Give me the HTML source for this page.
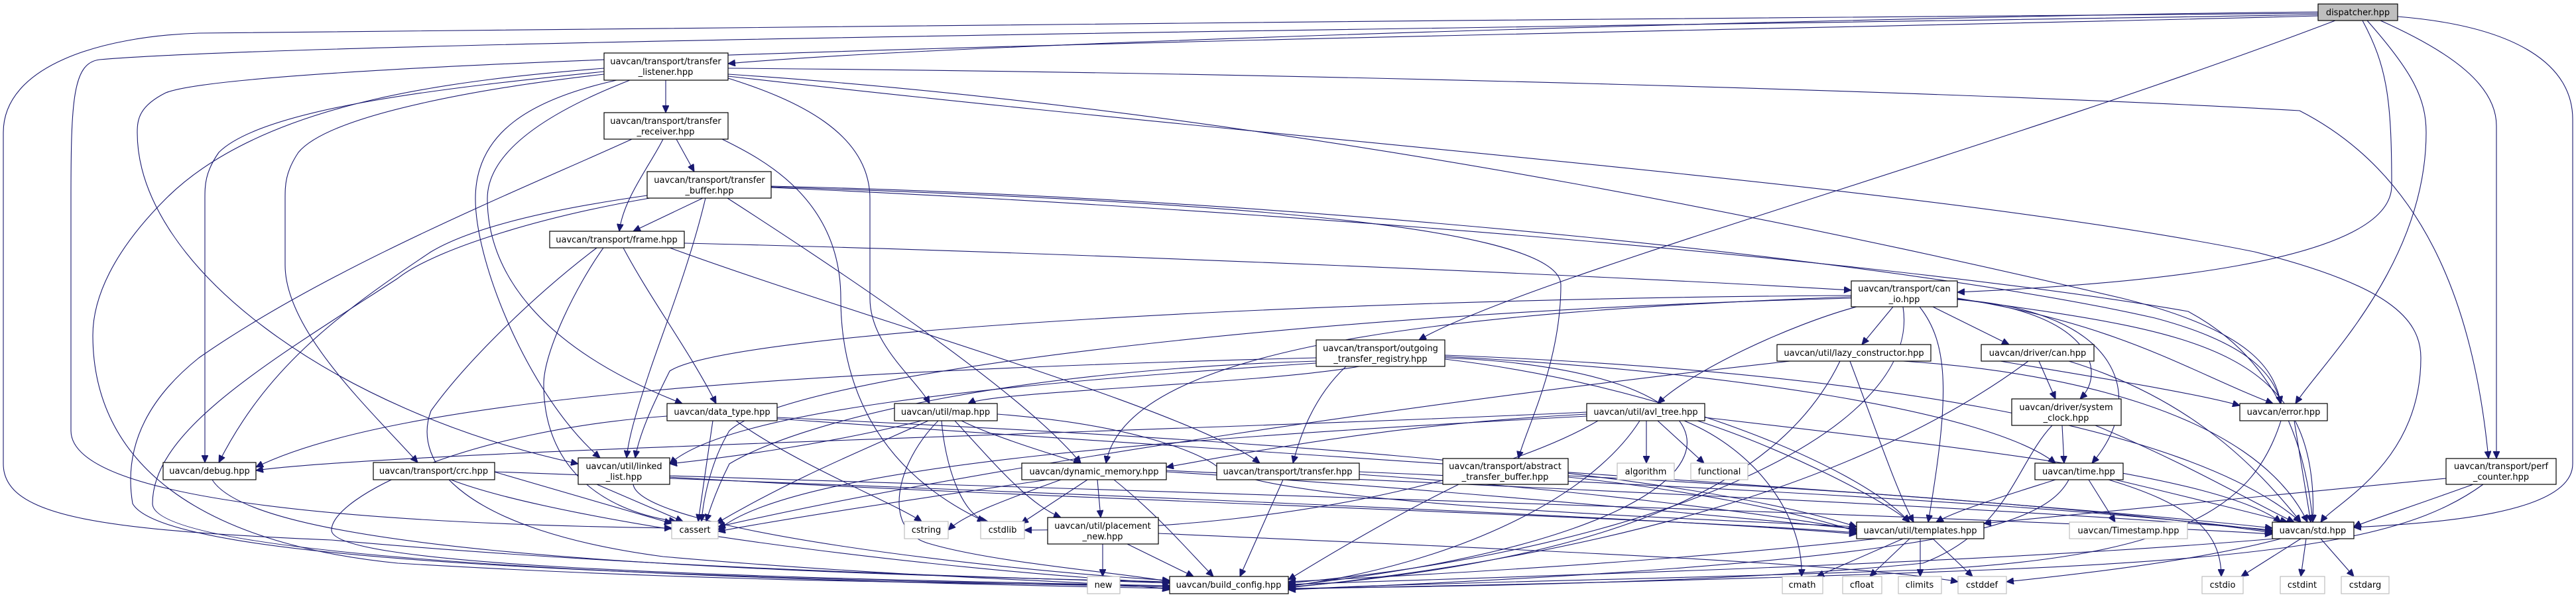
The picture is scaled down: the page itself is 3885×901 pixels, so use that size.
<!DOCTYPE html>
<html><head><meta charset="utf-8"><style>
html,body{margin:0;padding:0;background:#fff;}
svg{display:block}
text{font-family:"DejaVu Sans","Liberation Sans",sans-serif;font-size:13px;fill:#000}
.n{fill:#fff;stroke:#000;stroke-width:1.2}
.g{fill:#fff;stroke:#bfbfbf;stroke-width:1.2}
.e path{fill:none;stroke:#191970;stroke-width:1.1;marker-end:url(#a)}
</style></head><body>
<svg width="3885" height="901" viewBox="0 0 3885 901" xmlns="http://www.w3.org/2000/svg">
<defs><marker id="a" markerUnits="userSpaceOnUse" markerWidth="12" markerHeight="10" refX="11" refY="5" orient="auto"><path d="M0,0 L11,5 L0,10 z" fill="#191970" stroke="#191970"/></marker></defs>
<g class="e">
<path d="M3496,18 C3000,22 1500,60 1098,96"/>
<path d="M3496,20 C2500,30 700,40 300,50 C150,55 5,100 5,200 L5,700 C5,780 150,800 500,815 C1000,860 1500,870 1764,880"/>
<path d="M3496,22 C2500,40 500,60 150,90 C110,95 107,150 107,300 L107,650 C107,750 500,790 1013,797"/>
<path d="M3496,24 C2500,50 400,80 250,140 C210,160 207,180 207,200 C207,400 500,620 872,700"/>
<path d="M3522,31 C3000,230 2300,420 2140,513"/>
<path d="M3563,31 C3600,100 3607,150 3607,280 C3607,400 3200,430 2952,441"/>
<path d="M3570,31 C3640,110 3659,150 3659,200 C3659,400 3500,550 3462,609"/>
<path d="M3590,31 C3700,80 3765,130 3765,190 L3765,692"/>
<path d="M3616,25 C3800,40 3880,100 3880,180 L3880,700 C3880,780 3650,790 3550,796"/>
<path d="M1004,121 L1004,170"/>
<path d="M911,103 C700,120 400,150 250,300 C170,380 140,450 140,506 C140,700 300,820 600,850 C1100,880 1500,880 1764,884"/>
<path d="M911,108 C700,130 400,160 330,230 C309,260 309,280 309,300 L309,698"/>
<path d="M911,112 C750,130 500,170 450,230 C430,260 430,280 430,300 L430,400 C430,500 560,620 630,698"/>
<path d="M930,121 C800,150 717,200 717,300 C717,400 800,600 905,691"/>
<path d="M950,121 C850,160 735,220 735,300 C735,400 800,520 1029,609"/>
<path d="M1098,118 C1200,150 1312,200 1312,300 L1312,450 C1312,520 1380,570 1402,609"/>
<path d="M1098,103 C2000,110 3000,140 3468,167 C3650,260 3730,450 3753,692"/>
<path d="M1098,112 C2000,172 2900,380 3200,450 C3400,500 3430,560 3440,609"/>
<path d="M1098,115 C2000,218 2900,279 3400,380 C3600,430 3651,480 3651,540 C3651,700 3520,760 3500,788"/>
<path d="M1020,210 L1047,259"/>
<path d="M1000,210 C980,250 940,300 934,349"/>
<path d="M953,210 C800,280 500,400 300,540 C200,620 190,700 200,760 C250,850 1000,870 1764,886"/>
<path d="M1089,210 C1150,240 1268,300 1268,450 C1268,550 1300,700 1485,787"/>
<path d="M1060,299 L955,349"/>
<path d="M1064,299 C1040,400 1000,500 980,560 C960,620 948,660 945,691"/>
<path d="M976,295 C800,320 700,350 650,380 C500,480 400,560 330,698"/>
<path d="M980,299 C800,330 650,380 600,420 C400,550 230,650 230,760 C230,830 800,870 1764,888"/>
<path d="M1097,299 C1300,430 1550,600 1630,699"/>
<path d="M1163,282 C1700,300 2354,330 2354,430 C2354,550 2300,650 2290,692"/>
<path d="M1163,281 C2000,300 2900,400 3250,480 C3400,520 3430,570 3440,609"/>
<path d="M1163,283 C2000,320 2900,400 3300,470 C3450,550 3480,700 3488,788"/>
<path d="M1032,367 C1600,380 2500,420 2792,438"/>
<path d="M940,374 C980,450 1040,530 1080,609"/>
<path d="M910,374 C870,430 820,530 820,580 C820,700 900,770 1020,787"/>
<path d="M900,374 C800,450 700,550 650,620 C620,700 700,800 1000,840 C1400,875 1700,878 1764,890"/>
<path d="M1010,374 C1300,480 1800,620 1900,699"/>
<path d="M2792,446 C2000,450 1100,500 1010,560 C990,600 965,650 958,691"/>
<path d="M2792,448 C2200,470 1700,520 1668,699"/>
<path d="M2792,450 C2000,470 1200,560 1100,650 C1070,700 1060,760 1058,787"/>
<path d="M2800,463 C2700,490 2550,560 2500,609"/>
<path d="M2855,463 L2808,520"/>
<path d="M2895,463 C2940,520 2940,600 2908,788"/>
<path d="M2915,463 L3030,520"/>
<path d="M2952,452 C3150,470 3180,560 3137,602"/>
<path d="M2952,452 C3200,470 3240,600 3155,699"/>
<path d="M2952,450 C3200,490 3300,560 3428,609"/>
<path d="M2952,451 C3300,500 3500,520 3488,788"/>
<path d="M2870,463 C2900,650 2500,830 1943,880"/>
<path d="M2050,553 C1900,580 1500,590 1460,609"/>
<path d="M2030,553 C1980,600 1960,660 1950,699"/>
<path d="M1985,545 C1500,560 1200,640 1100,700 C1080,740 1070,770 1065,787"/>
<path d="M1985,540 C1200,560 600,600 386,705"/>
<path d="M1985,548 C1500,580 1100,620 1010,700"/>
<path d="M2179,538 C2600,560 3000,620 3100,699"/>
<path d="M2179,536 C2800,560 3300,640 3470,788"/>
<path d="M2179,540 C2700,560 2700,800 1943,884"/>
<path d="M2179,542 C2500,580 2800,700 2880,788"/>
<path d="M2790,545 C2830,650 2860,740 2886,788"/>
<path d="M2775,545 C2700,700 2500,840 1943,886"/>
<path d="M2700,545 C2200,600 1500,700 1083,795"/>
<path d="M2870,545 C3100,560 3400,620 3480,788"/>
<path d="M3075,545 L3100,602"/>
<path d="M3120,545 C3300,600 3400,700 3470,788"/>
<path d="M3059,545 C2850,700 2500,830 1943,887"/>
<path d="M2988,540 C3100,560 3300,590 3378,612"/>
<path d="M3110,642 L3113,699"/>
<path d="M3160,642 C3300,700 3400,760 3460,788"/>
<path d="M3095,642 C3040,700 3030,800 2900,850 C2600,880 2200,885 1943,888"/>
<path d="M3100,724 C3050,740 2950,770 2920,788"/>
<path d="M3150,724 L3190,788"/>
<path d="M3180,724 C3300,760 3350,800 3350,870"/>
<path d="M3190,724 C3300,750 3420,780 3450,788"/>
<path d="M3120,724 C3080,800 2900,850 1943,890"/>
<path d="M3460,635 L3485,788"/>
<path d="M3440,635 C3400,760 3300,840 2900,860 C2500,875 2100,880 1943,890"/>
<path d="M3689,722 C3400,750 3100,780 2992,790"/>
<path d="M3730,731 C3650,760 3560,790 3550,795"/>
<path d="M3745,731 C3650,800 3500,840 3000,860 C2500,880 2100,885 1943,889"/>
<path d="M3470,813 L3380,870"/>
<path d="M3478,813 L3470,870"/>
<path d="M3500,813 L3550,870"/>
<path d="M3440,813 C3300,850 3100,870 3026,878"/>
<path d="M3430,813 C3000,850 2300,870 1943,882"/>
<path d="M2870,813 L2740,870"/>
<path d="M2880,813 L2820,870"/>
<path d="M2896,813 L2896,870"/>
<path d="M2915,813 L2975,870"/>
<path d="M2830,813 C2500,850 2100,870 1943,878"/>
<path d="M2483,635 L2483,699"/>
<path d="M2500,635 L2570,699"/>
<path d="M2540,635 C2650,680 2720,780 2717,870"/>
<path d="M2560,635 C2700,680 2850,760 2880,788"/>
<path d="M2571,630 C3000,680 3350,720 3440,788"/>
<path d="M2393,625 C2100,640 1900,680 1759,705"/>
<path d="M2393,622 C1800,650 600,680 386,710"/>
<path d="M2393,628 C1800,660 1200,700 1083,800"/>
<path d="M2410,635 C2300,700 2000,800 1545,800"/>
<path d="M2473,635 C2400,750 2200,850 1943,885"/>
<path d="M1075,635 L1053,787"/>
<path d="M1110,635 C1200,700 1350,760 1390,787"/>
<path d="M1172,630 C1800,660 2500,700 2800,795"/>
<path d="M1172,632 C2000,690 3000,750 3427,797"/>
<path d="M1006,628 C700,650 500,750 500,800 C500,850 1000,870 1764,884"/>
<path d="M1400,635 C1300,680 1200,720 1080,790"/>
<path d="M1390,635 C1250,670 1100,690 1010,700"/>
<path d="M1450,635 C1500,660 1600,690 1630,699"/>
<path d="M1440,635 C1500,700 1550,760 1600,781"/>
<path d="M1420,635 C1425,700 1450,780 1490,787"/>
<path d="M1415,635 C1350,700 1330,800 1400,820 C1500,850 1700,865 1764,878"/>
<path d="M1504,625 C1700,640 1800,680 1830,700 C1900,760 2500,780 2800,795"/>
<path d="M1655,724 L1660,781"/>
<path d="M1600,724 C1500,760 1450,780 1430,800"/>
<path d="M1640,724 L1540,790"/>
<path d="M1580,724 C1400,750 1200,780 1083,802"/>
<path d="M1680,724 C1750,780 1800,840 1830,870"/>
<path d="M1759,712 C2200,740 2600,780 2800,798"/>
<path d="M1759,710 C2400,740 3100,770 3427,800"/>
<path d="M1663,821 L1663,870"/>
<path d="M1700,821 L1800,870"/>
<path d="M1747,805 C2300,830 2800,850 2953,878"/>
<path d="M1935,724 L1870,870"/>
<path d="M2050,716 C2400,740 2700,780 2800,800"/>
<path d="M2050,712 C2700,740 3200,770 3427,802"/>
<path d="M2200,731 C2100,780 2000,840 1943,875"/>
<path d="M2365,720 C2550,740 2700,770 2800,802"/>
<path d="M2365,718 C2800,740 3200,770 3427,804"/>
<path d="M955,731 C965,800 1500,860 1764,876"/>
<path d="M900,731 L1030,787"/>
<path d="M1010,720 C1500,750 2500,780 2800,804"/>
<path d="M1010,718 C2000,750 3000,780 3427,806"/>
<path d="M680,724 C850,790 1400,860 1764,880"/>
<path d="M745,712 L1013,790"/>
<path d="M746,712 C1500,740 2500,780 2800,806"/>
<path d="M320,724 C380,820 900,860 1764,878"/>
</g>
<g>
<rect x="3496" y="6" width="120" height="25" fill="#bfbfbf" stroke="#000" stroke-width="1.2"/><text x="3556" y="23" text-anchor="middle">dispatcher.hpp</text>
<rect class="n" x="911" y="80" width="187" height="41"/><text x="1004" y="97" text-anchor="middle">uavcan/transport/transfer</text><text x="1004" y="113" text-anchor="middle">_listener.hpp</text>
<rect class="n" x="911" y="170" width="187" height="40"/><text x="1004" y="187" text-anchor="middle">uavcan/transport/transfer</text><text x="1004" y="203" text-anchor="middle">_receiver.hpp</text>
<rect class="n" x="976" y="259" width="187" height="40"/><text x="1070" y="276" text-anchor="middle">uavcan/transport/transfer</text><text x="1070" y="292" text-anchor="middle">_buffer.hpp</text>
<rect class="n" x="829" y="349" width="203" height="25"/><text x="930" y="366" text-anchor="middle">uavcan/transport/frame.hpp</text>
<rect class="n" x="2792" y="424" width="160" height="39"/><text x="2872" y="440" text-anchor="middle">uavcan/transport/can</text><text x="2872" y="456" text-anchor="middle">_io.hpp</text>
<rect class="n" x="1985" y="513" width="194" height="40"/><text x="2082" y="530" text-anchor="middle">uavcan/transport/outgoing</text><text x="2082" y="546" text-anchor="middle">_transfer_registry.hpp</text>
<rect class="n" x="2680" y="520" width="232" height="25"/><text x="2796" y="537" text-anchor="middle">uavcan/util/lazy_constructor.hpp</text>
<rect class="n" x="2988" y="520" width="170" height="25"/><text x="3073" y="537" text-anchor="middle">uavcan/driver/can.hpp</text>
<rect class="n" x="1006" y="609" width="166" height="26"/><text x="1089" y="626" text-anchor="middle">uavcan/data_type.hpp</text>
<rect class="n" x="1349" y="609" width="155" height="26"/><text x="1426" y="626" text-anchor="middle">uavcan/util/map.hpp</text>
<rect class="n" x="2393" y="609" width="178" height="26"/><text x="2482" y="626" text-anchor="middle">uavcan/util/avl_tree.hpp</text>
<rect class="n" x="3034" y="602" width="165" height="40"/><text x="3116" y="619" text-anchor="middle">uavcan/driver/system</text><text x="3116" y="635" text-anchor="middle">_clock.hpp</text>
<rect class="n" x="3378" y="609" width="132" height="26"/><text x="3444" y="626" text-anchor="middle">uavcan/error.hpp</text>
<rect class="n" x="246" y="698" width="140" height="26"/><text x="316" y="715" text-anchor="middle">uavcan/debug.hpp</text>
<rect class="n" x="563" y="698" width="183" height="26"/><text x="654" y="715" text-anchor="middle">uavcan/transport/crc.hpp</text>
<rect class="n" x="872" y="691" width="138" height="40"/><text x="941" y="708" text-anchor="middle">uavcan/util/linked</text><text x="941" y="724" text-anchor="middle">_list.hpp</text>
<rect class="n" x="1541" y="699" width="218" height="25"/><text x="1650" y="716" text-anchor="middle">uavcan/dynamic_memory.hpp</text>
<rect class="n" x="1835" y="699" width="215" height="25"/><text x="1942" y="716" text-anchor="middle">uavcan/transport/transfer.hpp</text>
<rect class="n" x="2176" y="692" width="189" height="39"/><text x="2270" y="708" text-anchor="middle">uavcan/transport/abstract</text><text x="2270" y="724" text-anchor="middle">_transfer_buffer.hpp</text>
<rect class="g" x="2439" y="699" width="86" height="25"/><text x="2482" y="716" text-anchor="middle">algorithm</text>
<rect class="g" x="2550" y="699" width="86" height="25"/><text x="2593" y="716" text-anchor="middle">functional</text>
<rect class="n" x="3069" y="699" width="133" height="25"/><text x="3135" y="716" text-anchor="middle">uavcan/time.hpp</text>
<rect class="n" x="3689" y="692" width="166" height="39"/><text x="3772" y="708" text-anchor="middle">uavcan/transport/perf</text><text x="3772" y="724" text-anchor="middle">_counter.hpp</text>
<rect class="g" x="1013" y="787" width="70" height="26"/><text x="1048" y="804" text-anchor="middle">cassert</text>
<rect class="g" x="1364" y="787" width="66" height="26"/><text x="1397" y="804" text-anchor="middle">cstring</text>
<rect class="g" x="1479" y="787" width="66" height="26"/><text x="1512" y="804" text-anchor="middle">cstdlib</text>
<rect class="n" x="1580" y="781" width="167" height="40"/><text x="1663" y="798" text-anchor="middle">uavcan/util/placement</text><text x="1663" y="814" text-anchor="middle">_new.hpp</text>
<rect class="n" x="2800" y="788" width="192" height="25"/><text x="2896" y="805" text-anchor="middle">uavcan/util/templates.hpp</text>
<rect class="g" x="3121" y="788" width="178" height="25"/><text x="3210" y="805" text-anchor="middle">uavcan/Timestamp.hpp</text>
<rect class="n" x="3427" y="788" width="123" height="25"/><text x="3488" y="805" text-anchor="middle">uavcan/std.hpp</text>
<rect class="g" x="1640" y="870" width="49" height="26"/><text x="1664" y="887" text-anchor="middle">new</text>
<rect class="n" x="1764" y="870" width="179" height="26"/><text x="1853" y="887" text-anchor="middle">uavcan/build_config.hpp</text>
<rect class="g" x="2688" y="870" width="61" height="26"/><text x="2718" y="887" text-anchor="middle">cmath</text>
<rect class="g" x="2779" y="870" width="59" height="26"/><text x="2808" y="887" text-anchor="middle">cfloat</text>
<rect class="g" x="2863" y="870" width="65" height="26"/><text x="2895" y="887" text-anchor="middle">climits</text>
<rect class="g" x="2953" y="870" width="73" height="26"/><text x="2989" y="887" text-anchor="middle">cstddef</text>
<rect class="g" x="3321" y="870" width="62" height="26"/><text x="3352" y="887" text-anchor="middle">cstdio</text>
<rect class="g" x="3439" y="870" width="67" height="26"/><text x="3472" y="887" text-anchor="middle">cstdint</text>
<rect class="g" x="3531" y="870" width="72" height="26"/><text x="3567" y="887" text-anchor="middle">cstdarg</text>
</g>
</svg>
</body></html>
